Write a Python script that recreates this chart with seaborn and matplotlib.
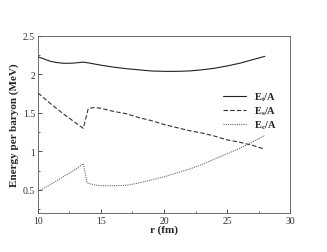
import numpy as np
import pandas as pd
import matplotlib
matplotlib.use("Agg")
import matplotlib.pyplot as plt
import seaborn as sns

# data
r_t = [10, 10.5, 11, 11.5, 12, 12.5, 13, 13.6, 14, 15, 16, 17, 18, 19, 20, 21, 22, 23, 24, 25, 26, 27, 28]
e_t = [2.23, 2.20, 2.17, 2.155, 2.145, 2.145, 2.15, 2.16, 2.15, 2.12, 2.095, 2.075, 2.06, 2.045, 2.04, 2.04, 2.045, 2.06, 2.08, 2.11, 2.145, 2.19, 2.235]

r_s = [10, 11, 12, 13, 13.6, 14.0, 14.5, 15, 16, 17, 18, 19, 20, 21, 22, 23, 24, 25, 26, 27, 28]
e_s = [1.76, 1.62, 1.49, 1.37, 1.30, 1.56, 1.57, 1.56, 1.52, 1.49, 1.44, 1.40, 1.35, 1.31, 1.27, 1.24, 1.20, 1.15, 1.12, 1.08, 1.03]

r_c = [10, 11, 12, 13, 13.6, 13.9, 14.5, 15, 16, 17, 18, 19, 20, 21, 22, 23, 24, 25, 26, 27, 28]
e_c = [0.48, 0.57, 0.67, 0.77, 0.84, 0.59, 0.565, 0.555, 0.555, 0.56, 0.59, 0.63, 0.67, 0.72, 0.77, 0.83, 0.90, 0.97, 1.04, 1.12, 1.21]

labels = [r"$\mathbf{E_t/A}$", r"$\mathbf{E_s/A}$", r"$\mathbf{E_c/A}$"]

sns.set_style("ticks")
plt.rcParams["font.family"] = ["Liberation Serif", "DejaVu Serif"]
plt.rcParams["mathtext.fontset"] = "custom"
plt.rcParams["mathtext.rm"] = "Liberation Serif"
plt.rcParams["mathtext.bf"] = "Liberation Serif:bold"
plt.rcParams["mathtext.it"] = "Liberation Serif:italic"

fig = plt.figure(figsize=(3.27, 2.53), dpi=100)
ax = fig.add_axes([0.116, 0.154, 0.771, 0.70])

df_t = pd.DataFrame({"r": r_t, "E": e_t})
df_s = pd.DataFrame({"r": r_s, "E": e_s})
df_c = pd.DataFrame({"r": r_c, "E": e_c})

sns.lineplot(data=df_t, x="r", y="E", ax=ax, color="#222222", lw=0.8, label=labels[0])
sns.lineplot(data=df_s, x="r", y="E", ax=ax, color="#333333", lw=0.8, linestyle=(0, (4, 2)), label=labels[1])
sns.lineplot(data=df_c, x="r", y="E", ax=ax, color="#666666", lw=0.8, linestyle=(0, (1, 1)), label=labels[2])

ax.set_xlim(10, 30)
ax.set_ylim(0.2, 2.5)
ax.set_xticks([10, 15, 20, 25, 30])
ax.set_xticks(np.arange(12.5, 30, 5), minor=True)
ax.set_yticks([0.5, 1, 1.5, 2, 2.5])
ax.set_yticklabels(["0.5", "1", "1.5", "2", "2.5"])
ax.set_yticks(np.arange(0.25, 2.5, 0.5), minor=True)
ax.tick_params(direction="in", labelsize=7, length=3, width=0.6, colors="#333333", pad=2)
ax.tick_params(which="minor", direction="in", length=1.5, width=0.5)
for s in ax.spines.values():
    s.set_linewidth(0.6)
    s.set_color("#555555")

ax.set_xlabel("r (fm)", fontsize=8, fontweight="bold", labelpad=0)
ax.set_ylabel("Energy per baryon (MeV)", fontsize=8, fontweight="bold", labelpad=3)

ax.legend(loc="upper right", bbox_to_anchor=(0.985, 0.745), frameon=False, fontsize=7.5,
          handlelength=2.2, handletextpad=0.8, labelspacing=0.15)

fig.savefig("out.png", dpi=100)
